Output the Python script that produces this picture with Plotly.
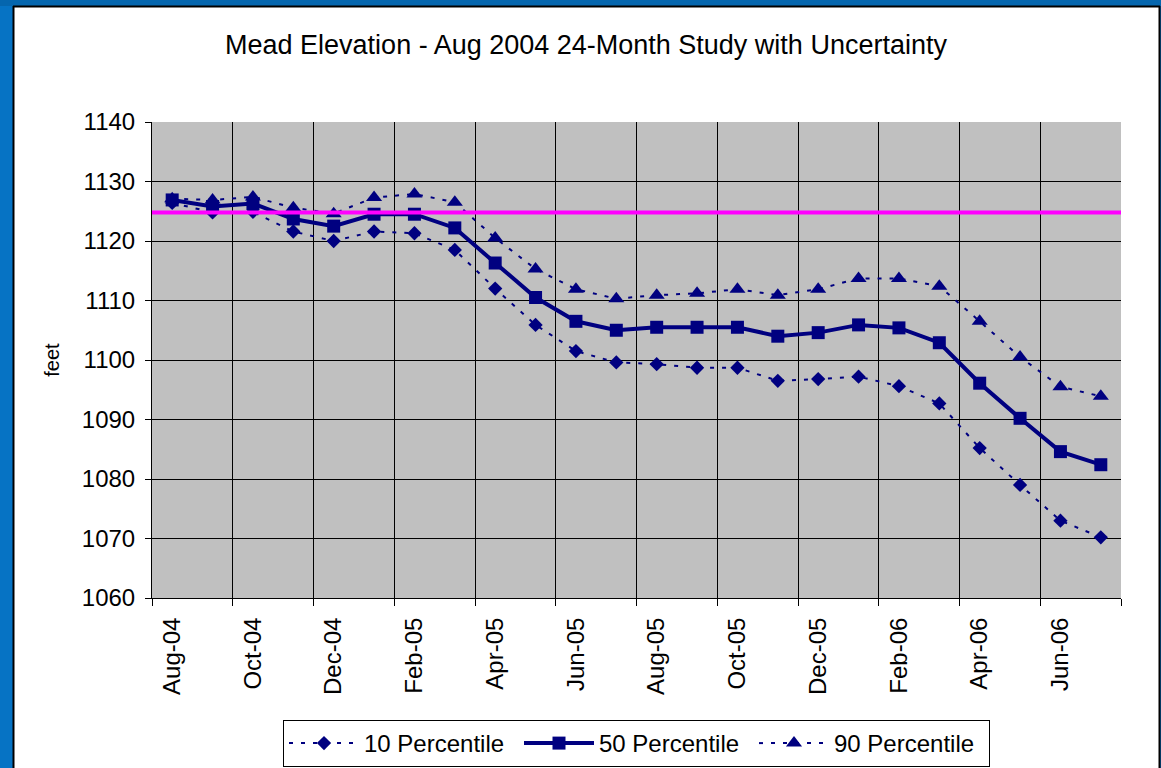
import plotly.graph_objects as go

# Month labels for the 24-month study period
months = ["Aug-04", "Sep-04", "Oct-04", "Nov-04", "Dec-04", "Jan-05", "Feb-05", "Mar-05",
          "Apr-05", "May-05", "Jun-05", "Jul-05", "Aug-05", "Sep-05", "Oct-05", "Nov-05",
          "Dec-05", "Jan-06", "Feb-06", "Mar-06", "Apr-06", "May-06", "Jun-06", "Jul-06"]

# End-of-month elevations (feet)
p10 = [1126.4, 1124.8, 1124.9, 1121.6, 1120.0, 1121.6, 1121.3, 1118.5,
       1112.0, 1105.9, 1101.5, 1099.6, 1099.3, 1098.7, 1098.7, 1096.5,
       1096.8, 1097.2, 1095.6, 1092.7, 1085.2, 1079.0, 1073.0, 1070.2]
p50 = [1126.9, 1125.8, 1126.3, 1123.7, 1122.5, 1124.5, 1124.5, 1122.2,
       1116.3, 1110.5, 1106.5, 1105.0, 1105.5, 1105.5, 1105.5, 1104.0,
       1104.6, 1105.9, 1105.4, 1102.9, 1096.1, 1090.2, 1084.6, 1082.4]
p90 = [1127.1, 1126.9, 1127.4, 1125.6, 1124.6, 1127.3, 1127.9, 1126.5,
       1120.5, 1115.3, 1111.9, 1110.3, 1110.9, 1111.2, 1111.9, 1110.9,
       1111.9, 1113.7, 1113.7, 1112.4, 1106.5, 1100.5, 1095.5, 1093.9]

ref_level = 1124.8
y_ticks = [1060, 1070, 1080, 1090, 1100, 1110, 1120, 1130, 1140]

W, H = 1161, 768
L, R, T, B = 152, 40, 122, 170
PW, PH = W - L - R, H - T - B

NAVY = "#000080"
FONT = "Liberation Sans, Arial, sans-serif"

idx = list(range(len(months)))


def px_x(p):
    return (p - L) / PW


def px_y(p):
    return (H - B - p) / PH


fig = go.Figure()

fig.add_trace(go.Scatter(
    x=idx, y=p10, name="10 Percentile", mode="lines+markers",
    line=dict(color=NAVY, width=2, dash="4px,8px"),
    marker=dict(symbol="diamond", size=11, color=NAVY)))
fig.add_trace(go.Scatter(
    x=idx, y=p50, name="50 Percentile", mode="lines+markers",
    line=dict(color=NAVY, width=4),
    marker=dict(symbol="square", size=13, color=NAVY)))
fig.add_trace(go.Scatter(
    x=idx, y=p90, name="90 Percentile", mode="lines+markers",
    line=dict(color=NAVY, width=2, dash="4px,8px"),
    marker=dict(symbol="triangle-up", size=14, color=NAVY)))

shapes = [
    # reference elevation line
    dict(type="line", xref="paper", yref="y", x0=0, x1=1, y0=ref_level, y1=ref_level,
         line=dict(color="#FF00FF", width=4), layer="above"),
    # blue frame around the white panel
    dict(type="rect", xref="paper", yref="paper", x0=px_x(0), x1=px_x(W), y0=px_y(6), y1=px_y(0),
         fillcolor="#0566AE", line=dict(width=0), layer="above"),
    dict(type="rect", xref="paper", yref="paper", x0=px_x(0), x1=px_x(13), y0=px_y(H), y1=px_y(6),
         fillcolor="#0673C4", line=dict(width=0), layer="above"),
    dict(type="rect", xref="paper", yref="paper", x0=px_x(1160), x1=px_x(W), y0=px_y(H), y1=px_y(6),
         fillcolor="#0673C4", line=dict(width=0), layer="above"),
    dict(type="line", xref="paper", yref="paper", x0=px_x(13.5), x1=px_x(13.5), y0=px_y(H), y1=px_y(6),
         line=dict(color="black", width=2), layer="above"),
    dict(type="line", xref="paper", yref="paper", x0=px_x(13), x1=px_x(1160), y0=px_y(6.5), y1=px_y(6.5),
         line=dict(color="black", width=2), layer="above"),
    dict(type="line", xref="paper", yref="paper", x0=px_x(1159.5), x1=px_x(1159.5), y0=px_y(H), y1=px_y(6),
         line=dict(color="black", width=2), layer="above"),
]

fig.update_layout(
    width=W, height=H,
    margin=dict(l=L, r=R, t=T, b=B, autoexpand=False),
    paper_bgcolor="white",
    plot_bgcolor="#C0C0C0",
    font=dict(family=FONT, color="black", size=24),
    title=dict(text="Mead Elevation - Aug 2004 24-Month Study with Uncertainty",
               font=dict(size=27, family=FONT, color="black"),
               x=586 / W, xref="container", xanchor="center",
               y=1 - 45 / H, yref="container", yanchor="middle"),
    showlegend=True,
    legend=dict(orientation="h", x=0.5, xanchor="center", xref="paper",
                y=px_y(720), yanchor="top", yref="paper",
                bgcolor="white", bordercolor="black", borderwidth=1,
                itemwidth=70,
                font=dict(size=24, family=FONT), entrywidth=150, entrywidthmode="pixels"),
    shapes=shapes,
)

fig.update_xaxes(
    range=[-0.5, len(months) - 0.5],
    tickmode="array", tickvals=idx[::2], ticktext=months[::2],
    tickangle=-90, ticks="", showgrid=False,
    ticklabelstandoff=9,
    showline=True, linecolor="black", linewidth=1,
    zeroline=False,
    tickfont=dict(size=24, family=FONT),
    minor=dict(tickmode="array", tickvals=[i - 0.5 for i in range(0, len(months) + 1, 2)],
               ticks="outside", ticklen=7, tickcolor="black", tickwidth=1,
               showgrid=True, gridcolor="black", gridwidth=1),
)

fig.update_yaxes(
    range=[1060, 1140], tickmode="array", tickvals=y_ticks,
    ticks="outside", ticklen=6, tickcolor="black",
    showgrid=True, gridcolor="black", gridwidth=1,
    showline=True, linecolor="black", linewidth=1, zeroline=False,
    ticklabelstandoff=5,
    tickfont=dict(size=24, family=FONT),
    title=dict(text="feet", font=dict(size=20, family=FONT), standoff=16),
)

fig.write_html("out.html")
